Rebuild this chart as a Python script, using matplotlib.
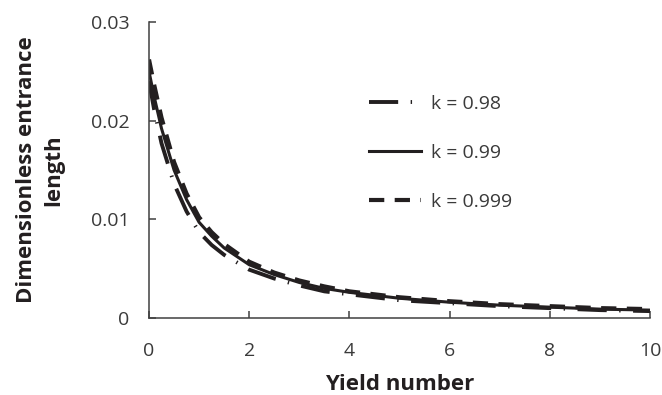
import matplotlib
matplotlib.use("Agg")
import matplotlib.pyplot as plt

plt.rcParams['font.family'] = ['Open Sans', 'DejaVu Sans']
plt.rcParams['lines.scale_dashes'] = False

x = [0, 0.1, 0.25, 0.5, 0.75, 1, 1.25, 1.5, 2, 2.5, 3, 3.5, 4, 5, 6, 7, 8, 9, 10]
k098 = [0.0240, 0.0212, 0.0177, 0.0136, 0.0108, 0.0087, 0.0074, 0.0064, 0.0049, 0.0040,
        0.0033, 0.0027, 0.0024, 0.0018, 0.0015, 0.0012, 0.0010, 0.0008, 0.0007]
k099 = [0.0250, 0.0225, 0.0192, 0.0150, 0.0120, 0.0097, 0.0083, 0.0071, 0.0054, 0.0044,
        0.0036, 0.0030, 0.0026, 0.0020, 0.0016, 0.0013, 0.0011, 0.0009, 0.0008]
k0999 = [0.0262, 0.0237, 0.0203, 0.0158, 0.0126, 0.0102, 0.0087, 0.0075, 0.0057, 0.0046,
         0.0038, 0.0032, 0.0027, 0.0021, 0.0017, 0.0014, 0.0012, 0.0010, 0.0009]
labels = ['k = 0.98', 'k = 0.99', 'k = 0.999']
xticks = [0, 2, 4, 6, 8, 10]
yticks = [0, 0.01, 0.02, 0.03]
yticklabels = ['0', '0.01', '0.02', '0.03']

line_c = '#231f20'
text_c = '#3a3a3a'

fig = plt.figure(figsize=(6.62, 3.95), dpi=100)
ax = fig.add_axes([149/662, 1-318/395, (650-149)/662, (318-22)/395])

ax.plot(x, k098, color=line_c, lw=2.8, linestyle=(0, (21, 9, 1, 9)),
        solid_capstyle='butt', dash_capstyle='butt', label=labels[0])
ax.plot(x, k099, color=line_c, lw=2.2, linestyle='-', label=labels[1])
ax.plot(x, k0999, color=line_c, lw=3.0, linestyle=(0, (11, 7.5)),
        dash_capstyle='butt', label=labels[2])

ax.set_xlim(0, 10)
ax.set_ylim(0, 0.03)
ax.set_xticks(xticks)
ax.set_xticklabels([str(t) for t in xticks])
ax.set_yticks(yticks)
ax.set_yticklabels(yticklabels)

for s in ['top', 'right']:
    ax.spines[s].set_visible(False)
for s in ['left', 'bottom']:
    ax.spines[s].set_color('#404040')
    ax.spines[s].set_linewidth(1.1)

ax.tick_params(axis='both', direction='in', length=5, width=1.1, color='#404040',
               labelsize=14, labelcolor=text_c)
ax.tick_params(axis='x', pad=17)
ax.tick_params(axis='y', pad=14)

ax.set_xlabel('Yield number', fontsize=16, fontweight='bold', color=line_c, labelpad=10)
ax.set_ylabel('Dimensionless entrance\nlength', fontsize=16, fontweight='bold',
              color=line_c, labelpad=19, linespacing=1.4)

leg = ax.legend(loc='upper left', bbox_to_anchor=(0.404, 0.813), frameon=False,
                fontsize=14, handlelength=2.7, handletextpad=0.5, labelspacing=1.6,
                labelcolor=text_c)

fig.savefig('out.png', dpi=100)
